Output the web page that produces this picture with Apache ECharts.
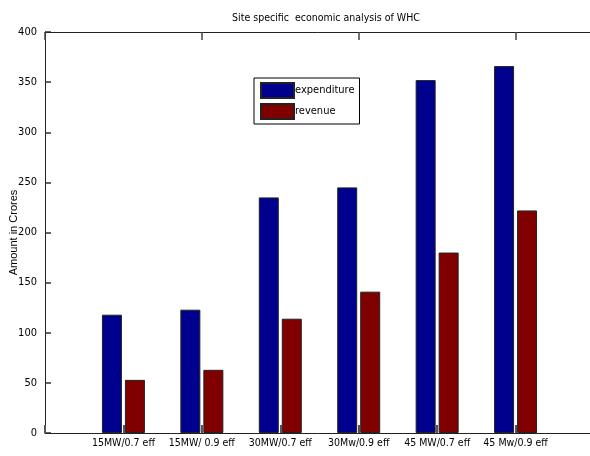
<!DOCTYPE html>
<html>
<head>
<meta charset="utf-8">
<script src="https://cdn.jsdelivr.net/npm/echarts@6/dist/echarts.min.js"></script>
<style>html,body{margin:0;padding:0;background:#fff}#c{width:590px;height:456px}</style>
</head>
<body>
<div id="c"></div>
<script>
var categories = ['15MW/0.7 eff', '15MW/ 0.9 eff', '30MW/0.7 eff', '30Mw/0.9 eff', '45 MW/0.7 eff', '45 Mw/0.9 eff'];
var expenditure = [118, 123, 235, 245, 352, 366];
var revenue = [53, 63, 114, 141, 180, 222];
var yTicks = [0, 50, 100, 150, 200, 250, 300, 350, 400];

var NARROW = '"Liberation Sans Narrow", "DejaVu Sans Condensed", "Liberation Sans", sans-serif';
var axisData = [''].concat(categories, ['']);
function pad(a) { return ['-'].concat(a, ['-']); }

var chart = echarts.init(document.getElementById('c'));
chart.setOption({
  animation: false,
  backgroundColor: '#fff',
  title: {
    text: 'Site specific  economic analysis of WHC',
    left: 321, top: 8, textAlign: 'center',
    textStyle: { fontFamily: NARROW, fontSize: 10.5, fontWeight: 'normal', color: '#000' }
  },
  legend: {
    orient: 'vertical', left: 254, top: 78,
    data: ['expenditure', 'revenue'],
    itemWidth: 33, itemHeight: 15, itemGap: 4,
    padding: [4, 5, 4, 6],
    borderColor: '#000', borderWidth: 1,
    textStyle: { fontFamily: NARROW, fontSize: 11, color: '#000', padding: [0, 0, 0, -4] },
    icon: 'rect'
  },
  grid: { left: 45, top: 32, bottom: 23, width: 549, outerBoundsMode: 'none', containLabel: false },
  xAxis: [{
    type: 'category', data: axisData, boundaryGap: false, z: 10,
    axisLine: { lineStyle: { color: '#222', width: 1 } },
    axisTick: { inside: true, length: 8, lineStyle: { color: '#555', width: 2 } },
    axisLabel: { fontFamily: NARROW, fontSize: 10.5, color: '#000', margin: 5, interval: 0, hideOverlap: false }
  }, {
    type: 'category', data: axisData, boundaryGap: false, position: 'top', z: 10,
    axisLine: { show: true, lineStyle: { color: '#222', width: 1 } },
    axisTick: { show: true, inside: true, length: 8, lineStyle: { color: '#444', width: 1.5 } },
    axisLabel: { show: false }
  }],
  yAxis: {
    type: 'value', min: 0, max: 400, interval: 50,
    name: 'Amount in Crores', nameLocation: 'middle', nameGap: 26, nameMoveOverlap: false,
    nameTextStyle: { fontFamily: '"Liberation Sans", Arial, sans-serif', fontSize: 11, color: '#000' },
    axisLine: { show: true, lineStyle: { color: '#222', width: 1 } },
    axisTick: { show: true, inside: true, length: 6, lineStyle: { color: '#333', width: 1.5 } },
    axisLabel: { fontFamily: NARROW, fontSize: 11, color: '#000', margin: 8,
      formatter: function (v) { return yTicks.indexOf(v) >= 0 ? String(v) : ''; } },
    splitLine: { show: false }
  },
  series: [{
    name: 'expenditure', type: 'bar', data: pad(expenditure),
    barWidth: 20, barGap: '15%',
    itemStyle: { color: '#00008f', borderColor: '#222', borderWidth: 1 }
  }, {
    name: 'revenue', type: 'bar', data: pad(revenue),
    barWidth: 20, barGap: '15%',
    itemStyle: { color: '#800000', borderColor: '#222', borderWidth: 1 }
  }]
});
</script>
</body>
</html>
